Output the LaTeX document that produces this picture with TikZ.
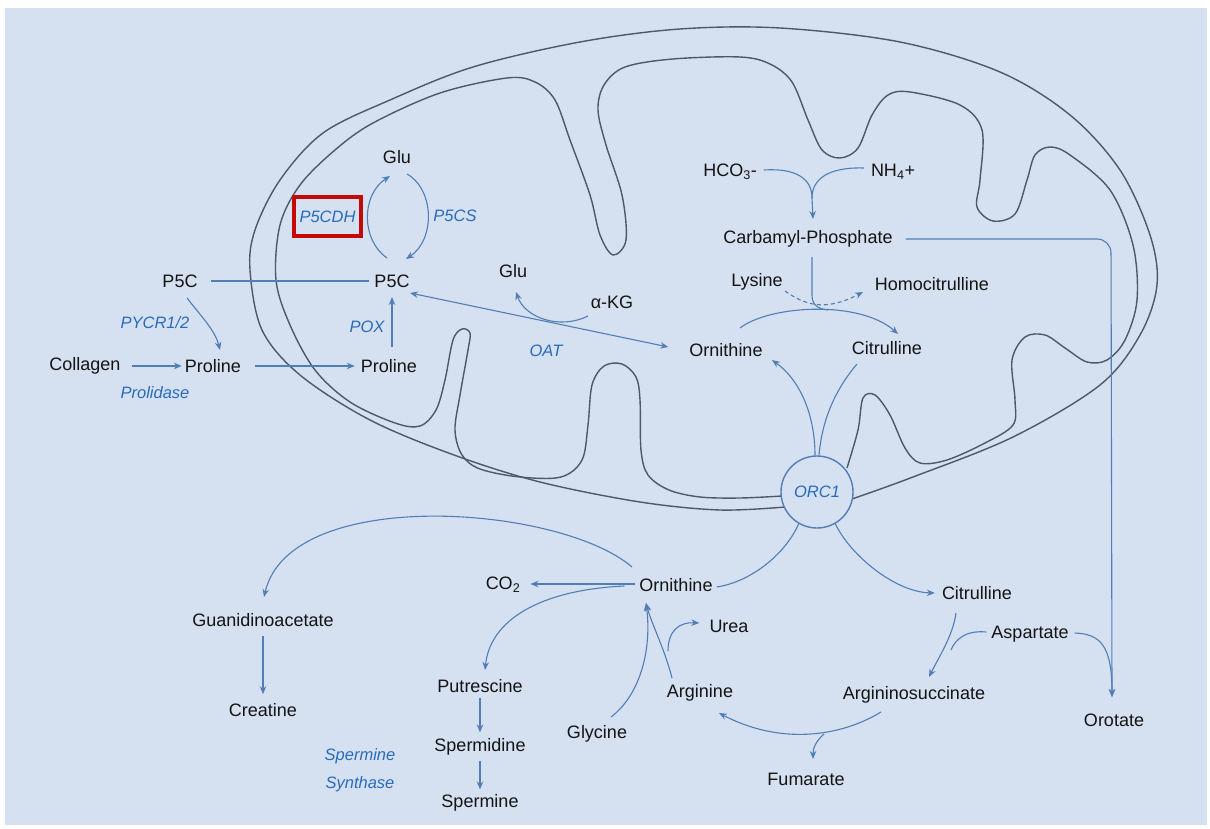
\documentclass[tikz,border=0pt]{standalone}
\usepackage{fontspec}
\setmainfont{Liberation Sans}
\usetikzlibrary{arrows.meta,calc}
\definecolor{bg}{RGB}{213,224,240}
\definecolor{mem}{RGB}{78,88,104}
\definecolor{flow}{RGB}{82,126,182}
\definecolor{lbl}{RGB}{40,108,188}
\definecolor{txt}{RGB}{20,20,20}
\definecolor{redbox}{RGB}{196,8,8}
\begin{document}
\begin{tikzpicture}[x=1pt,y=-1pt,
  met/.style={font=\fontsize{18}{20}\selectfont, text=txt, inner sep=1pt},
  enz/.style={font=\fontsize{16.5}{28}\selectfont\itshape, text=lbl, inner sep=1pt},
  flowline/.style={draw=flow, line width=1.1pt},
  arr/.style={flowline, -{Stealth[length=8pt,width=6.5pt]}},
  membrane/.style={draw=mem, line width=1.4pt}
]
\fill[white] (0,0) rectangle (1210,829);
\fill[bg] (5,8) rectangle (1207,825);
\useasboundingbox (0,0) rectangle (1210,829);

% outer membrane
\draw[membrane] plot[smooth, tension=0.55] coordinates {(852,499) (913,477) (1013,437) (1100,385) (1140,335) (1157,285) (1150,235) (1120,170) (1070,115) (1000,72) (900,42) (780,28) (680,29) (580,42) (473,67) (390,100) (323,133) (280,180) (255,230) (250,270) (262,330) (300,375) (370,420) (454,455) (540,482) (640,502) (720,510) (785,507)};
% inner membrane
\draw[membrane] plot[smooth, tension=0.55] coordinates {(782,496) (740,498) (700,497) (669,490) (648,475) (641,450) (640,400) (636,377) (622,364) (604,366) (592,385) (588,425) (582,460) (561,477) (520,477) (480,469) (462,455) (455,430) (460,395) (468,350) (470,333) (462,329) (453,340) (445,380) (436,410) (420,426) (395,423) (350,402) (315,370) (290,325) (276,280) (280,225) (300,185) (335,150) (373,123) (440,93) (507,78) (535,82) (555,100) (570,140) (590,195) (600,235) (613,255) (626,240) (622,195) (606,145) (598,110) (604,85) (625,67) (673,59) (740,57) (770,64) (792,82) (808,120) (822,150) (840,158) (858,148) (872,115) (888,95) (910,92) (960,105) (982,130) (980,180) (977,207) (993,221) (1015,214) (1027,180) (1035,155) (1050,147) (1070,155) (1110,190) (1133,245) (1137,300) (1125,340) (1107,360) (1087,362) (1065,348) (1045,335) (1025,337) (1012,360) (1015,400) (1013,425) (985,443) (947,460) (920,463) (905,448) (890,415) (875,395) (863,398) (858,430) (847,468)};

% nodes
\node[met] (glu1) at (397,157) {Glu};
\node[enz, draw=redbox, line width=3.5pt, minimum width=67pt, minimum height=39pt] (p5cdh) at (327.5,216.5) {P5CDH};
\node[enz] (p5cs) at (455,216) {P5CS};
\node[met] (p5cL) at (180,281) {P5C};
\node[met] (p5cI) at (392,281) {P5C};
\node[met] (glu2) at (513,271) {Glu};
\node[met] (akg) at (612,302) {α-KG};
\node[enz] (pycr) at (155,323) {PYCR1/2};
\node[enz] (pox) at (367,327) {POX};
\node[enz] (oat) at (546,351) {OAT};
\node[met] (coll) at (85,366) {Collagen};
\node[met] (proL) at (213,366) {Proline};
\node[met] (proI) at (389,366) {Proline};
\node[enz] (prolid) at (155,393) {Prolidase};
\node[met] (ornI) at (726,350) {Ornithine};
\node[met] (citI) at (887,348) {Citrulline};
\node[met] (hco) at (730,172) {HCO\textsubscript{3}-};
\node[met] (nh4) at (893,172) {NH\textsubscript{4}+};
\node[met] (carb) at (808,239) {Carbamyl-Phosphate};
\node[met] (lys) at (757,282) {Lysine};
\node[met] (homo) at (932,284) {Homocitrulline};
\node[enz, circle, draw=flow, line width=1.4pt, fill=bg, minimum size=72pt, inner sep=0pt] (orc) at (817,492) {ORC1};
\node[met] (ornO) at (676,585) {Ornithine};
\node[met] (co2) at (503,585) {CO\textsubscript{2}};
\node[met] (guan) at (263,620) {Guanidinoacetate};
\node[met] (crea) at (263,710) {Creatine};
\node[met] (urea) at (729,626) {Urea};
\node[met] (put) at (480,686) {Putrescine};
\node[met] (arg) at (700,693) {Arginine};
\node[met] (citO) at (977,593) {Citrulline};
\node[met] (asp) at (1030,634) {Aspartate};
\node[met] (asuc) at (914,695) {Argininosuccinate};
\node[met] (oro) at (1114,720) {Orotate};
\node[met] (gly) at (597,734) {Glycine};
\node[met] (spd) at (480,747) {Spermidine};
\node[enz, align=center] (sms) at (360,770) {Spermine\\Synthase};
\node[met] (fum) at (806,779) {Fumarate};
\node[met] (spm) at (480,803) {Spermine};

% connectors: proline cycle
\draw[arr] ($(p5cI)+(-5,-23)$) .. controls (361,240) and (361,195) .. ($(glu1)+(-7,19)$);
\draw[arr] ($(glu1)+(10,17)$) .. controls (435,190) and (435,240) .. ($(p5cI)+(14,-22)$);
\draw[flowline] ($(p5cL.east)+(12,0)$) -- ($(p5cI.west)+(-4,0)$);
\draw[arr] ($(p5cL)+(7,17)$) .. controls (200,315) and (215,330) .. ($(proL)+(7,-16)$);
\draw[arr] ($(coll.east)+(10,0)$) -- ($(proL.west)+(-2,0)$);
\draw[arr] ($(proL.east)+(13,0)$) -- ($(proI.west)+(-5,0)$);
\draw[arr] ($(proI)+(3,-19)$) -- ($(p5cI)+(0,16)$);
\draw[{Stealth[length=8pt,width=6.5pt]}-{Stealth[length=8pt,width=6.5pt]}, flowline] ($(p5cI)+(18,12)$) -- ($(ornI.west)+(-20,-3)$);
\draw[arr] ($(akg)+(-24,14)$) .. controls (560,330) and (525,318) .. ($(glu2)+(3,21)$);

% urea cycle (mitochondrial)
\coordinate (cpm) at (812,198);
\draw[flowline] ($(hco.east)+(6,-2)$) .. controls (795,168) and (812,178) .. (cpm);
\draw[flowline] ($(nh4.west)+(-6,-4)$) .. controls (830,167) and (812,178) .. (cpm);
\draw[arr] (cpm) -- ($(carb)+(5,-20)$);
\draw[flowline] ($(carb)+(4,18)$) -- (812,295) .. controls (812,305) and (818,309) .. (828,310);
\draw[arr] ($(ornI)+(14,-22)$) .. controls (770,305) and (860,300) .. ($(citI)+(11,-14)$);
\draw[arr, dash pattern=on 4pt off 3pt] ($(lys)+(28,9)$) .. controls (805,305) and (825,312) .. ($(homo)+(-69,8)$);
\draw[arr] ($(orc.north)+(-2,0)$) .. controls (815,415) and (800,380) .. ($(ornI)+(46,10)$);
\draw[flowline] ($(citI)+(-30,16)$) .. controls (835,390) and (822,420) .. ($(orc.north)+(2,0)$);

% cytosol
\draw[flowline] (orc.240) .. controls (785,555) and (750,582) .. ($(ornO.east)+(3,2)$);
\draw[arr] (orc.300) .. controls (850,555) and (895,592) .. ($(citO.west)+(-6,0)$);
\draw[arr] ($(ornO.west)+(-3,-1)$) -- ($(co2.east)+(9,-1)$);
\draw[arr] ($(ornO.west)+(-14,1)$) .. controls (540,590) and (490,620) .. ($(put)+(5,-16)$);
\draw[arr] ($(ornO)+(-44,-18)$) .. controls (560,505) and (290,485) .. ($(guan)+(1,-23)$);
\draw[arr] ($(guan.south)+(0,8)$) -- ($(crea.north)+(0,-8)$);
\draw[arr] ($(put.south)+(0,4)$) -- ($(spd.north)+(0,-5)$);
\draw[arr] ($(spd.south)+(0,4)$) -- ($(spm.north)+(0,-4)$);
\draw[arr] ($(gly)+(14,-17)$) .. controls (640,695) and (652,650) .. ($(ornO)+(-30,18)$);
\draw[arr] ($(arg)+(-28,-15)$) .. controls (665,650) and (652,625) .. ($(ornO)+(-30,18)$);
\draw[arr] ($(arg)+(-32,-42)$) .. controls (668,630) and (680,622) .. ($(urea.west)+(-9,-3)$);
\draw[arr] ($(citO)+(-21,20)$) .. controls (953,635) and (940,655) .. ($(asuc)+(15,-18)$);
\draw[flowline] ($(asp.west)+(-4,-2)$) .. controls (965,630) and (955,640) .. (951,650);
\draw[arr] ($(asuc)+(-33,17)$) .. controls (840,737) and (780,745) .. ($(arg)+(19,20)$);
\draw[arr] (824,734) .. controls (816,741) and (813,748) .. ($(fum)+(7,-20)$);
\draw[arr] ($(asp.east)+(5,-1)$) .. controls (1100,634) and (1112,645) .. ($(oro)+(-2,-23)$);
\draw[arr, rounded corners=14pt] ($(carb.east)+(12,0)$) -- (1111,239) -- ($(oro)+(-2,-23)$);
\end{tikzpicture}
\end{document}
